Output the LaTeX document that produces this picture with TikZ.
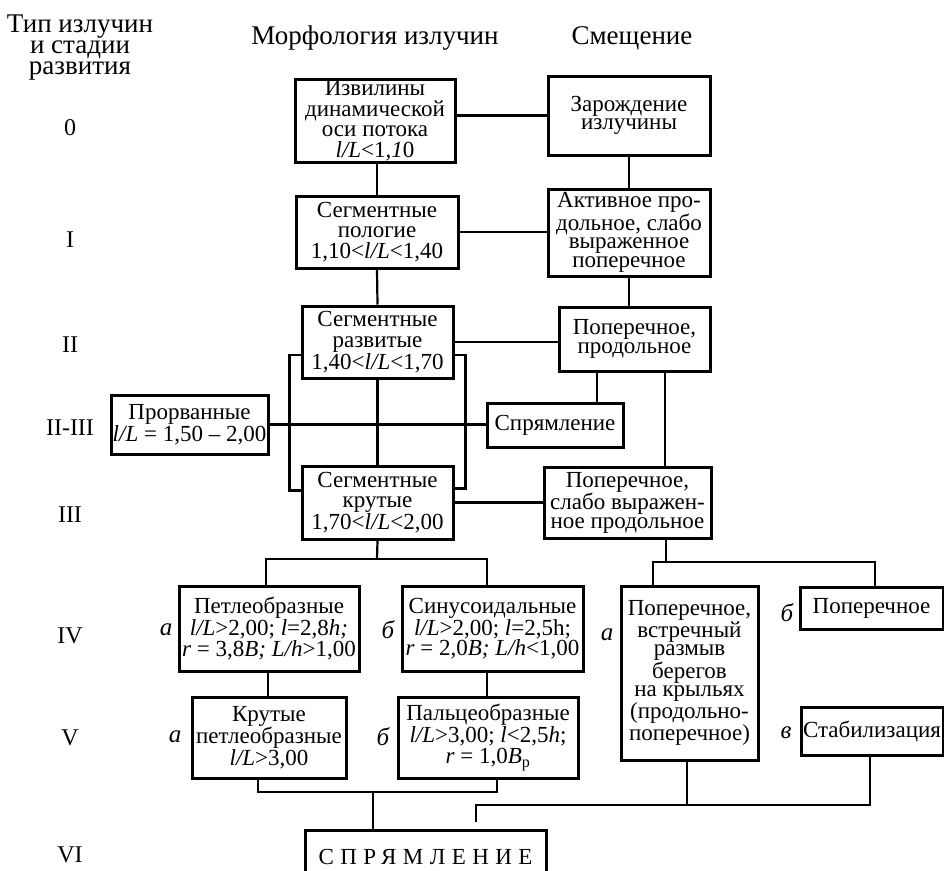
\documentclass[tikz,border=0pt]{standalone}
\usepackage{fontspec}
\setmainfont{Liberation Serif}
\usetikzlibrary{positioning, calc}
\tikzset{
    blok/.style={rectangle, draw, line width=3pt, align=center, inner sep=0pt, font=\fontsize{23}{20.5}\selectfont},
    tesno/.style={font=\fontsize{23}{18.5}\selectfont},
    stadija/.style={align=center, inner sep=1pt, font=\fontsize{24}{24}\selectfont},
    shapka/.style={align=center, inner sep=1pt, font=\fontsize{27}{21}\selectfont},
    bukva/.style={inner sep=1pt, font=\fontsize{25}{25}\selectfont\itshape},
    svjaz/.style={line width=2.2pt},
}

\begin{document}
\begin{tikzpicture}[x=1pt, y=-1pt]
\useasboundingbox (0,0) rectangle (944,870);

% Column headers
\node[shapka] (hdrtip) at (80,48) {Тип излучин\\и стадии\\развития};
\node[shapka] (hdrmorf) at (375,38) {Морфология излучин};
\node[shapka] (hdrsmesh) at (632,38) {Смещение};

% Stages
\node[stadija] (st0) at (70,128) {0};
\node[stadija] (st1) at (70,240) {I};
\node[stadija] (st2) at (70,345) {II};
\node[stadija] (st23) at (70,428) {II-III};
\node[stadija] (st3) at (70,515) {III};
\node[stadija] (st4) at (70,636) {IV};
\node[stadija] (st5) at (70,738) {V};
\node[stadija] (st6) at (70,855) {VI};

% Morphology boxes
\node[blok, minimum width=160pt, minimum height=83pt] (izv) at (375,120.5) {Извилины\\динамической\\оси потока\\\textit{l/L}<1,\textit{1}0};
\node[blok, minimum width=162pt, minimum height=72pt] (polog) at (377,232) {Сегментные\\пологие\\1,10<\textit{l/L}<1,40};
\node[blok, minimum width=151pt, minimum height=72pt] (razv) at (377.5,342) {Сегментные\\развитые\\1,40<\textit{l/L}<1,70};
\node[blok, minimum width=157pt, minimum height=59pt] (prorv) at (189.5,424.5) {Прорванные\\\textit{l/L} = 1,50 – 2,00};
\node[blok, minimum width=151pt, minimum height=73pt] (krut) at (377.5,502.5) {Сегментные\\крутые\\1,70<\textit{l/L}<2,00};
\node[blok, minimum width=180pt, minimum height=85pt] (petl) at (269,628.5) {Петлеобразные\\\textit{l/L}>2,00; \textit{l}=2,8\textit{h;}\\\textit{r} = 3,8\textit{B; L/h}>1,00};
\node[blok, minimum width=181pt, minimum height=85pt] (sinus) at (492.5,628.5) {Синусоидальные\\\textit{l/L}>2,00; \textit{l}=2,5h;\\\textit{r} = 2,0\textit{B; L/h}<1,00};
\node[blok, minimum width=154pt, minimum height=81pt] (krpetl) at (269,737.5) {Крутые\\петлеобразные\\\textit{l/L}>3,00};
\node[blok, minimum width=180pt, minimum height=81pt] (palc) at (488,737.5) {Пальцеобразные\\\textit{l/L}>3,00; \textit{l}<2,5\textit{h};\\\textit{r} = 1,0\textit{B}\textsubscript{р}};
\node[blok, minimum width=241pt, minimum height=54pt] (final) at (425.5,857) {\addfontfeature{LetterSpace=28}СПРЯМЛЕНИЕ};

% Displacement boxes
\node[blok, tesno, minimum width=162pt, minimum height=79pt] (zarod) at (629,115.5) {Зарождение\\излучины};
\node[blok, tesno, minimum width=162pt, minimum height=87pt] (aktiv) at (629,232.5) {Активное про-\\дольное, слабо\\выраженное\\поперечное};
\node[blok, tesno, minimum width=151pt, minimum height=64pt] (popprod) at (634.5,339) {Поперечное,\\продольное};
\node[blok, minimum width=136pt, minimum height=44pt] (sprjam) at (555,425) {Спрямление};
\node[blok, tesno, minimum width=167pt, minimum height=71pt] (popslab) at (627.5,502.5) {Поперечное,\\слабо выражен-\\ное продольное};
\node[blok, tesno, minimum width=137pt, minimum height=174pt] (vstrech) at (689.5,673) {Поперечное,\\встречный\\размыв\\берегов\\на крыльях\\(продольно-\\поперечное)};
\node[blok, minimum width=143pt, minimum height=42pt] (popere) at (871.5,608) {Поперечное};
\node[blok, minimum width=142pt, minimum height=48pt] (stabil) at (872,731) {Стабилизация};

% Variant letters
\node[bukva] (la) at (166,630) {а};
\node[bukva] (lb) at (388,630) {б};
\node[bukva] (lva) at (607,635) {а};
\node[bukva] (lvb) at (787,613) {б};
\node[bukva] (lka) at (175,737) {а};
\node[bukva] (lkb) at (383,737) {б};
\node[bukva] (lsv) at (786,733) {в};

% Junction points
\coordinate (j4) at (377,559);
\coordinate (j5) at (666,562);
\coordinate (j6) at (373,792);
\coordinate (j7) at (476,822);
\coordinate (j8) at (476,805);

% Links between stages
\draw[svjaz] (izv.east |- zarod.west) -- (zarod.west);
\draw[svjaz] (izv.south -| polog.north) -- (polog.north);
\draw[svjaz] (zarod.south) -- (aktiv.north);
\draw[svjaz] (polog.east) -- (polog.east -| aktiv.west);
\draw[svjaz] (polog.south) -- (razv.north);
\draw[svjaz] (aktiv.south) -- (aktiv.south |- popprod.north);
\draw[svjaz] (razv.east) -- (razv.east -| popprod.west);
\draw[svjaz] (razv.south) -- (krut.north);
\draw[svjaz] ([yshift=-13pt]razv.west) -- ++(-11,0) |- ([yshift=12pt]krut.west);
\draw[svjaz] ([yshift=-13pt]razv.east) -- ++(11,0) |- ([yshift=14pt]krut.east);
\draw[svjaz] (prorv.east) -- (prorv.east -| sprjam.west);
\draw[svjaz] ([xshift=42pt]sprjam.north) -- ([xshift=42pt]sprjam.north |- popprod.south);
\draw[svjaz] ([xshift=30.5pt]popprod.south) -- ([xshift=30.5pt]popprod.south |- popslab.north);
\draw[svjaz] (krut.east) -- (popslab.west);

% Branches to stage IV and V
\draw[svjaz] (krut.south) -- (j4);
\draw[svjaz] ([xshift=-3pt]petl.north) |- (j4) -| ([xshift=-5.5pt]sinus.north);
\draw[svjaz] (j5 |- popslab.south) -- (j5);
\draw[svjaz] ([xshift=-36.5pt]vstrech.north) |- (j5) -| ([xshift=3.5pt]popere.north);
\draw[svjaz] ([xshift=-1pt]petl.south) -- ([xshift=-1pt]krpetl.north);
\draw[svjaz] ([xshift=-1pt]palc.north) -- ([xshift=-1pt]palc.north |- sinus.south);

% Merging into stage VI
\draw[svjaz] ([xshift=-11pt]krpetl.south) |- (j6) -| ([xshift=9pt]palc.south);
\draw[svjaz] (j6) -- (j6 |- final.north);
\draw[svjaz] (j7) -- (j8) -| ([xshift=-2pt]stabil.south);
\draw[svjaz] ([xshift=-2.5pt]vstrech.south) -- ([xshift=-2.5pt]vstrech.south |- j8);

\end{tikzpicture}
\end{document}
